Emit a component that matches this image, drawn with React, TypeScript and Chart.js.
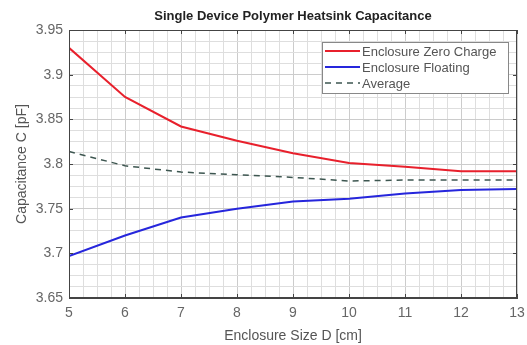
import React, { useEffect, useRef } from "react";
import { Chart, registerables } from "chart.js";

Chart.register(...registerables);

const sizes = [5, 6, 7, 8, 9, 10, 11, 12, 13];
const zeroCharge = [3.93, 3.875, 3.842, 3.826, 3.812, 3.801, 3.797, 3.792, 3.792];
const floating = [3.697, 3.72, 3.74, 3.75, 3.758, 3.761, 3.767, 3.771, 3.772];
const average = [3.814, 3.798, 3.791, 3.788, 3.785, 3.781, 3.782, 3.782, 3.782];

const titleText = "Single Device Polymer Heatsink Capacitance";
const xTitle = "Enclosure Size D [cm]";
const yTitle = "Capacitance C [pF]";
const seriesLabels = ["Enclosure Zero Charge", "Enclosure Floating", "Average"];

const FONT = "'Liberation Sans', Arial, sans-serif";

const isMult = (v: number, s: number) => Math.abs(v / s - Math.round(v / s)) < 1e-6;

const framePlugin = {
  id: "frameAndExtras",
  afterDraw(chart: any) {
    const { ctx, chartArea } = chart;
    const { left, right, top, bottom } = chartArea;
    const xs = chart.scales.x;
    const ys = chart.scales.y;
    ctx.save();
    ctx.strokeStyle = "#444";
    ctx.lineWidth = 1;
    ctx.strokeRect(left + 0.5, top + 0.5, right - left - 1, bottom - top - 1);
    ctx.beginPath();
    for (let v = 5; v <= 13; v++) {
      const px = Math.round(xs.getPixelForValue(v)) + 0.5;
      ctx.moveTo(px, bottom);
      ctx.lineTo(px, bottom - 4);
      ctx.moveTo(px, top);
      ctx.lineTo(px, top + 4);
    }
    for (let k = 0; k <= 6; k++) {
      const v = 3.65 + k * 0.05;
      const py = Math.round(ys.getPixelForValue(v)) + 0.5;
      ctx.moveTo(left, py);
      ctx.lineTo(left + 4, py);
      ctx.moveTo(right, py);
      ctx.lineTo(right - 4, py);
    }
    ctx.stroke();

    ctx.fillStyle = "#222";
    ctx.font = `bold 13px ${FONT}`;
    ctx.textAlign = "center";
    ctx.textBaseline = "middle";
    ctx.fillText(titleText, (left + right) / 2, 16);

    const bx = right - 195;
    const by = top + 12;
    const bw = 186;
    const bh = 51;
    ctx.fillStyle = "#fff";
    ctx.fillRect(bx, by, bw, bh);
    ctx.strokeStyle = "#888";
    ctx.strokeRect(bx + 0.5, by + 0.5, bw, bh);
    ctx.font = `13px ${FONT}`;
    ctx.textAlign = "left";
    chart.data.datasets.forEach((ds: any, i: number) => {
      const yy = by + 9 + i * 16;
      ctx.beginPath();
      ctx.strokeStyle = ds.borderColor;
      ctx.lineWidth = ds.borderWidth;
      ctx.setLineDash(ds.borderDash || []);
      ctx.moveTo(bx + 3, yy);
      ctx.lineTo(bx + 38, yy);
      ctx.stroke();
      ctx.setLineDash([]);
      ctx.fillStyle = "#555";
      ctx.fillText(ds.label, bx + 40, yy + 1);
    });
    ctx.restore();
  },
};

export default function App() {
  const ref = useRef<HTMLCanvasElement | null>(null);
  useEffect(() => {
    document.body.style.margin = "0";
    if (!ref.current) return;
    const chart = new Chart(ref.current, {
      type: "line",
      data: {
        datasets: [
          {
            label: seriesLabels[0],
            data: sizes.map((x, i) => ({ x, y: zeroCharge[i] })),
            borderColor: "#e8202c",
            borderWidth: 2,
            pointRadius: 0,
            tension: 0,
          },
          {
            label: seriesLabels[1],
            data: sizes.map((x, i) => ({ x, y: floating[i] })),
            borderColor: "#2626dc",
            borderWidth: 2,
            pointRadius: 0,
            tension: 0,
          },
          {
            label: seriesLabels[2],
            data: sizes.map((x, i) => ({ x, y: average[i] })),
            borderColor: "#3d5650",
            borderWidth: 1.5,
            borderDash: [6, 5],
            pointRadius: 0,
            tension: 0,
          },
        ],
      },
      options: {
        responsive: false,
        animation: false,
        layout: { padding: { top: 30, right: 10, left: 0, bottom: 0 } },
        plugins: { legend: { display: false }, title: { display: false }, tooltip: { enabled: false } },
        scales: {
          x: {
            type: "linear",
            min: 5,
            max: 13,
            afterFit: (s: any) => {
              s.height = 47;
              s.paddingLeft = 0;
              s.paddingRight = 0;
            },
            ticks: {
              stepSize: 0.25,
              autoSkip: false,
              maxRotation: 0,
              padding: 7,
              color: "#666",
              font: { family: FONT, size: 14 },
              callback: (v: any) => (isMult(Number(v), 1) ? String(Math.round(Number(v))) : ""),
            },
            grid: {
              drawTicks: false,
              color: (c: any) => (c.tick && isMult(c.tick.value, 1) ? "#cccccc" : "#dedede"),
            },
            border: { display: true, color: "#444" },
            title: {
              display: true,
              text: xTitle,
              color: "#555",
              font: { family: FONT, size: 14 },
              padding: { top: 4, bottom: 0 },
            },
          },
          y: {
            type: "linear",
            min: 3.65,
            max: 3.95,
            afterFit: (s: any) => {
              s.width = 69;
              s.paddingTop = 0;
              s.paddingBottom = 0;
            },
            ticks: {
              stepSize: 0.0125,
              autoSkip: false,
              padding: 6,
              color: "#666",
              font: { family: FONT, size: 14 },
              callback: (v: any) => (isMult(Number(v), 0.05) ? String(parseFloat(Number(v).toFixed(2))) : ""),
            },
            grid: {
              drawTicks: false,
              color: (c: any) => (c.tick && isMult(c.tick.value, 0.05) ? "#cccccc" : "#dedede"),
            },
            border: { display: true, color: "#444" },
            title: {
              display: true,
              text: yTitle,
              color: "#555",
              font: { family: FONT, size: 14 },
              padding: { top: 14, bottom: 0 },
            },
          },
        },
      },
      plugins: [framePlugin],
    });
    return () => chart.destroy();
  }, []);
  return <canvas ref={ref} width={527} height={345} style={{ display: "block" }} />;
}
